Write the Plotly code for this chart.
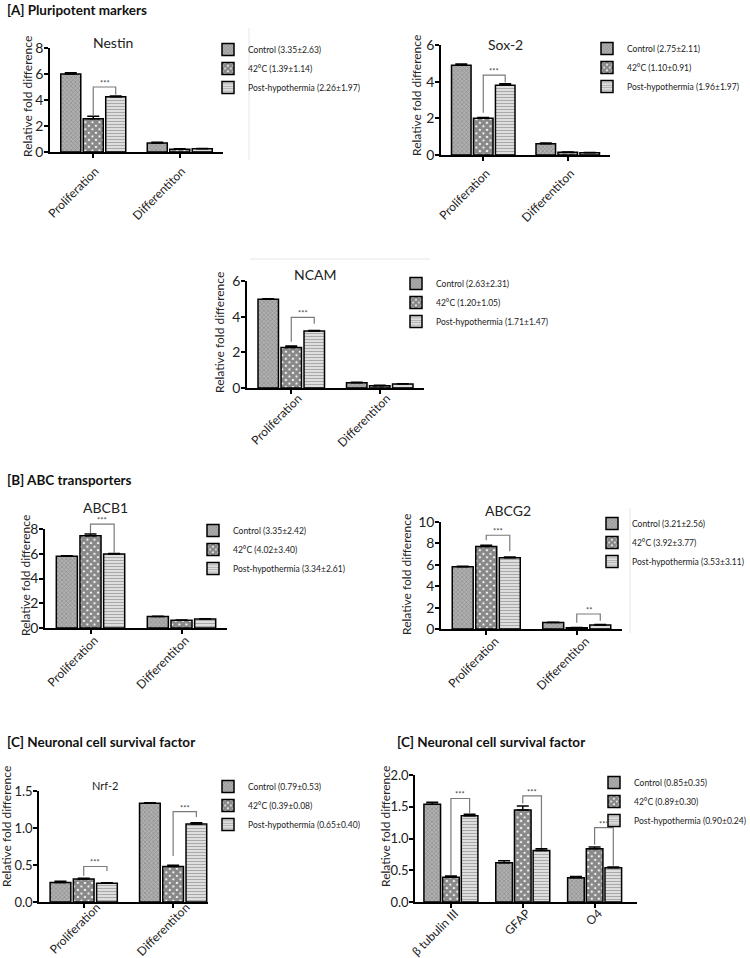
import plotly.graph_objects as go

W, H = 750, 958

groups = ["Control", "42°C", "Post-hypothermia"]
cats2 = ["Proliferation", "Differentiton"]
cats3 = ["β tubulin III", "GFAP", "O4"]
ytitle = "Relative fold difference"

# ---- data ----
nestin_vals = [[6.0, 0.70], [2.55, 0.22], [4.25, 0.25]]
nestin_err = [[0.10, 0.05], [0.20, 0.03], [0.06, 0.02]]
nestin_leg = ["Control (3.35±2.63)", "42°C (1.39±1.14)", "Post-hypothermia (2.26±1.97)"]

sox2_vals = [[4.90, 0.62], [2.00, 0.15], [3.80, 0.12]]
sox2_err = [[0.06, 0.03], [0.05, 0.02], [0.08, 0.02]]
sox2_leg = ["Control (2.75±2.11)", "42°C (1.10±0.91)", "Post-hypothermia (1.96±1.97)"]

ncam_vals = [[4.97, 0.30], [2.27, 0.13], [3.20, 0.22]]
ncam_err = [[0.03, 0.02], [0.08, 0.02], [0.03, 0.02]]
ncam_leg = ["Control (2.63±2.31)", "42°C (1.20±1.05)", "Post-hypothermia (1.71±1.47)"]

abcb1_vals = [[5.80, 0.92], [7.45, 0.62], [5.97, 0.72]]
abcb1_err = [[0.03, 0.02], [0.15, 0.03], [0.05, 0.03]]
abcb1_leg = ["Control (3.35±2.42)", "42°C (4.02±3.40)", "Post-hypothermia (3.34±2.61)"]

abcg2_vals = [[5.82, 0.60], [7.72, 0.12], [6.65, 0.38]]
abcg2_err = [[0.05, 0.02], [0.10, 0.02], [0.07, 0.03]]
abcg2_leg = ["Control (3.21±2.56)", "42°C (3.92±3.77)", "Post-hypothermia (3.53±3.11)"]

nrf2_vals = [[0.265, 1.335], [0.31, 0.48], [0.255, 1.055]]
nrf2_err = [[0.015, 0.005], [0.01, 0.015], [0.005, 0.015]]
nrf2_leg = ["Control (0.79±0.53)", "42°C (0.39±0.08)", "Post-hypothermia (0.65±0.40)"]

neur_vals = [[1.54, 0.62, 0.38], [0.39, 1.45, 0.84], [1.36, 0.81, 0.54]]
neur_err = [[0.03, 0.03, 0.02], [0.02, 0.06, 0.025], [0.02, 0.03, 0.01]]
neur_leg = ["Control (0.85±0.35)", "42°C (0.89±0.30)", "Post-hypothermia (0.90±0.24)"]

# significance brackets: (category index, top, left-leg bottom, right-leg bottom, label)
nestin_sig = [(0, 5.0, 2.8, 4.4, "***")]
sox2_sig = [(0, 4.36, 2.3, 3.95, "***")]
ncam_sig = [(0, 3.96, 2.6, 3.6, "***")]
abcb1_sig = [(0, 8.4, 7.68, 6.06, "***")]
abcg2_sig = [(0, 8.76, 8.29, 7.27, "***"), (1, 1.4, 0.59, 0.78, "**")]
nrf2_sig = [(0, 0.48, 0.355, 0.42, "***"), (1, 1.22, 0.62, 1.15, "***")]
neur_sig = [(0, 1.63, 0.42, 1.39, "***"), (1, 1.67, 1.55, 0.85, "***"), (2, 1.17, 0.90, 0.57, "***")]

# ---- layout of panels (pixel boxes) ----
panels = [
    dict(name="Nestin", cats=cats2, vals=nestin_vals, err=nestin_err, leg=nestin_leg, sig=nestin_sig,
         box=(50, 223, 48, 152), xr=(-0.5, 1.5), yr=8, dt=2, fmt="d", title_xy=(113, 43), tsize=14,
         leg_xy=(248, 53), tf=14, lshift=2, lstand=2, yt_xy=(28, 97)),
    dict(name="Sox-2", cats=cats2, vals=sox2_vals, err=sox2_err, leg=sox2_leg, sig=sox2_sig,
         box=(441, 610, 45, 155), xr=(-0.5, 1.5), yr=6, dt=2, fmt="d", title_xy=(505, 45), tsize=14,
         leg_xy=(627, 52), tf=14, lshift=3, lstand=1, yt_xy=(417, 96)),
    dict(name="NCAM", cats=cats2, vals=ncam_vals, err=ncam_err, leg=ncam_leg, sig=ncam_sig,
         box=(247, 424, 281, 388), xr=(-0.5, 1.5), yr=6, dt=2, fmt="d", title_xy=(315, 275), tsize=14,
         leg_xy=(436, 287), tf=14, lshift=7, lstand=-7, yt_xy=(219, 333)),
    dict(name="ABCB1", cats=cats2, vals=abcb1_vals, err=abcb1_err, leg=abcb1_leg, sig=abcb1_sig,
         box=(45, 227, 529, 628), xr=(-0.5, 1.5), yr=8, dt=2, fmt="d", title_xy=(105, 507), tsize=14,
         leg_xy=(233, 534), tf=14, lshift=4, lstand=-5, yt_xy=(25, 576)),
    dict(name="ABCG2", cats=cats2, vals=abcg2_vals, err=abcg2_err, leg=abcg2_leg, sig=abcg2_sig,
         box=(441, 622, 522, 629), xr=(-0.5, 1.5), yr=10, dt=2, fmt="d", title_xy=(508, 511), tsize=14,
         leg_xy=(632, 527), tf=14, lshift=9, lstand=-5, yt_xy=(406, 575)),
    dict(name="Nrf-2", cats=cats2, vals=nrf2_vals, err=nrf2_err, leg=nrf2_leg, sig=nrf2_sig,
         box=(39, 208, 791, 902), xr=(-0.5, 1.39), yr=1.5, dt=0.5, fmt=".1f", title_xy=(105, 785), tsize=11,
         leg_xy=(248, 790), tf=13, lshift=13, lstand=-12, yt_xy=(6, 827)),
    dict(name="", cats=cats3, vals=neur_vals, err=neur_err, leg=neur_leg, sig=neur_sig,
         box=(415, 637, 775, 902), xr=(-0.5, 2.59), yr=2.0, dt=0.5, fmt=".1f", title_xy=None, tsize=14,
         leg_xy=(634, 786), tf=13, lshift=4, lstand=-6, yt_xy=(385, 827)),
]

BARGAP = 0.22
BARGROUPGAP = 0.11
FONT = "Lato"

patterns = [
    dict(shape="x", bgcolor="#b0b0b0", fgcolor="#6a6a6a", size=3, solidity=0.4),
    dict(shape="x", bgcolor="#ffffff", fgcolor="#111111", size=5, solidity=0.85),
    dict(shape="-", bgcolor="#e8e8e8", fgcolor="#6a6a6a", size=3, solidity=0.45),
]


def px_x(v):
    return v / W


def px_y(v):
    return 1 - v / H


fig = go.Figure()
shapes = []
annotations = []
layout_extra = {}

for i, p in enumerate(panels, start=1):
    sfx = "" if i == 1 else str(i)
    xa, ya = "x" + sfx, "y" + sfx
    lg = "legend" + sfx
    for g in range(3):
        n = len(p["cats"])
        fig.add_trace(go.Bar(
            x=p["cats"], y=p["vals"][g], name=p["leg"][g],
            xaxis=xa, yaxis=ya, legend=lg,
            marker=dict(pattern=patterns[g], line=dict(color="black", width=1.5)),
            error_y=dict(type="data", array=p["err"][g], arrayminus=[0] * n, symmetric=False,
                         color="black", thickness=1.5, width=6),
        ))
    x0, x1, top, bot = p["box"]
    layout_extra["xaxis" + sfx] = dict(
        domain=[px_x(x0), px_x(x1)], anchor=ya, type="category", range=list(p["xr"]),
        showline=True, linecolor="black", linewidth=1.5, ticks="outside", ticklen=4, tickwidth=1.5,
        tickcolor="black", tickangle=-45, tickfont=dict(family=FONT, size=12, color="#222"),
        ticklabelshift=p["lshift"], ticklabelstandoff=p["lstand"],
        showgrid=False, zeroline=False)
    layout_extra["yaxis" + sfx] = dict(
        domain=[px_y(bot), px_y(top)], anchor=xa, range=[0, p["yr"]], dtick=p["dt"], tick0=0,
        tickformat=p["fmt"], showline=True, linecolor="black", linewidth=1.5, ticks="outside",
        ticklen=4, tickwidth=1.5, tickcolor="black", tickfont=dict(family=FONT, size=p["tf"], color="#222"),
        ticklabelstandoff=-2, showgrid=False, zeroline=False)
    # y-axis title (placed as in the original composite figure)
    tx, ty = p["yt_xy"]
    annotations.append(dict(x=px_x(tx), y=px_y(ty), xref="paper", yref="paper", text=ytitle,
                            textangle=-90, showarrow=False, xanchor="center", yanchor="middle",
                            font=dict(family=FONT, size=12, color="#222")))
    lx, ly = p["leg_xy"]
    layout_extra[lg] = dict(
        x=px_x(lx - 40), y=px_y(ly - 18), xanchor="left", yanchor="top", bgcolor="rgba(0,0,0,0)",
        font=dict(family=FONT, size=8.5, color="#222"), itemwidth=30, tracegroupgap=0)
    if p["title_xy"]:
        tx, ty = p["title_xy"]
        annotations.append(dict(x=px_x(tx), y=px_y(ty), xref="paper", yref="paper", text=p["name"],
                                showarrow=False, font=dict(family=FONT, size=p["tsize"], color="#222"),
                                xanchor="center", yanchor="middle"))
    slot = (1 - BARGAP) / 3
    yref_dom = ya + " domain"
    for (ci, yt, yl, yr_, lab) in p["sig"]:
        xl, xr = ci, ci + slot
        ft, fl, fr = yt / p["yr"], yl / p["yr"], yr_ / p["yr"]
        shapes.append(dict(type="path", xref=xa, yref=yref_dom,
                           path=f"M {xl},{fl} L {xl},{ft} L {xr},{ft} L {xr},{fr}",
                           line=dict(color="#7a7a7a", width=1.2)))
        annotations.append(dict(x=(xl + xr) / 2, y=ft, xref=xa, yref=yref_dom, text=lab, showarrow=False,
                                yanchor="bottom", yshift=-3, font=dict(family=FONT, size=7.5, color="#444")))

# section headings
for (tx, ty, txt) in [(5, 10, "[A] Pluripotent markers"), (5, 480, "[B] ABC transporters"),
                      (5, 742, "[C] Neuronal cell survival factor"),
                      (395, 742, "[C] Neuronal cell survival factor")]:
    annotations.append(dict(x=px_x(tx), y=px_y(ty), xref="paper", yref="paper", text="<b>" + txt + "</b>",
                            showarrow=False, xanchor="left", yanchor="middle",
                            font=dict(family=FONT, size=13.5, color="#111")))

# faint panel-border remnants visible in the figure
for (a, b, c, d) in [(249, 28, 249, 160), (630, 508, 630, 633), (250, 259, 430, 259)]:
    shapes.append(dict(type="line", xref="paper", yref="paper", x0=px_x(a), y0=px_y(b), x1=px_x(c),
                       y1=px_y(d), line=dict(color="#e6e6e6", width=1)))

fig.update_layout(
    width=W, height=H, margin=dict(l=0, r=0, t=0, b=0, autoexpand=False),
    paper_bgcolor="white", plot_bgcolor="white",
    barmode="group", bargap=BARGAP, bargroupgap=BARGROUPGAP,
    shapes=shapes, annotations=annotations, font=dict(family=FONT),
    **layout_extra,
)

# the page body has a default 8px margin; remove it so the figure fills the window exactly
fig.write_html("out.html", config={"displayModeBar": False},
               post_script="document.body.style.margin='0';")
